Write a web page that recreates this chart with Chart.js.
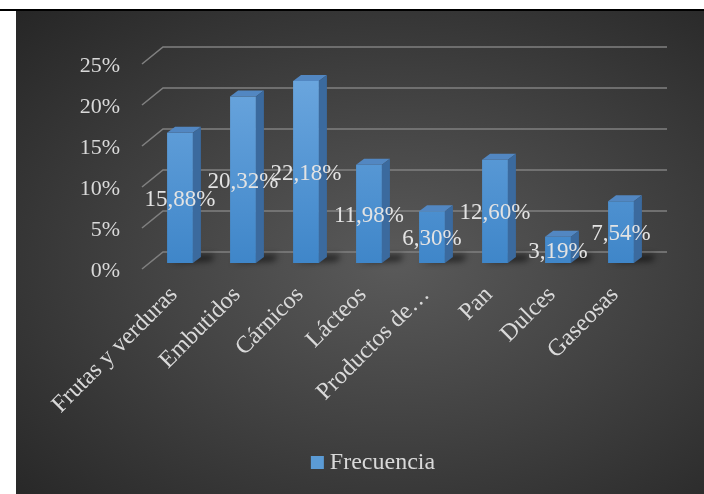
<!DOCTYPE html>
<html>
<head>
<meta charset="utf-8">
<script src="https://cdn.jsdelivr.net/npm/chart.js@4/dist/chart.umd.min.js"></script>
<style>
body{margin:0;background:#fff;width:704px;height:494px;overflow:hidden;position:relative}
#topline{position:absolute;left:0;top:9px;width:704px;height:2px;background:#000}
#box{position:absolute;left:16px;top:11px;width:688px;height:483px;
background:radial-gradient(farthest-corner at 55% 52%, #5a5a5a 0%, #434343 45%, #262626 100%)}
</style>
</head>
<body>
<div id="topline"></div>
<div id="box"><canvas id="chart" width="688" height="483"></canvas></div>
<script>
const categories = ["Frutas y verduras","Embutidos","Cárnicos","Lácteos","Productos de…","Pan","Dulces","Gaseosas"]
const frecuencia = [15.88,20.32,22.18,11.98,6.30,12.60,3.19,7.54]
const yTicks = [0,5,10,15,20,25]
const seriesName = "Frecuencia"

const fontFam = "'Liberation Serif','Times New Roman',serif"
const textCol = "#d9d9d9"
const barCol = "#5b9bd5"
const dx = 8, dy = -6

function fmt(v){
    return v.toFixed(2).replace('.', ',') + '%'
}

// back wall + perspective grid lines, 3d faces, labels, legend
const grid3d = {
    id: 'grid3d',
    beforeDatasetsDraw(chart){
        const ctx = chart.ctx, y = chart.scales.y, a = chart.chartArea
        ctx.save()
        ctx.strokeStyle = '#808080'
        ctx.lineWidth = 1.6
        yTicks.forEach(t => {
            const py = y.getPixelForValue(t)
            ctx.beginPath()
            ctx.moveTo(a.left - 6.5, py + 6)
            ctx.lineTo(a.left + 14.5, py - 11)
            ctx.lineTo(a.right + 14.5, py - 11)
            ctx.stroke()
        })
        // shadows under bars
        ctx.filter = 'blur(3px)'
        ctx.fillStyle = 'rgba(0,0,0,0.6)'
        chart.getDatasetMeta(0).data.forEach(b => {
            const r = b.x + b.width / 2, l = b.x - b.width / 2
            ctx.beginPath()
            ctx.moveTo(l + 2, b.base)
            ctx.lineTo(r + 18, b.base - 2)
            ctx.lineTo(r + 22, b.base - 8)
            ctx.lineTo(r, b.base - 8)
            ctx.closePath()
            ctx.fill()
        })
        ctx.restore()
    },
    afterDatasetsDraw(chart){
        const ctx = chart.ctx
        const bars = chart.getDatasetMeta(0).data
        ctx.save()
        bars.forEach(b => {
            const l = b.x - b.width / 2, r = b.x + b.width / 2
            // top
            ctx.fillStyle = '#5287c2'
            ctx.beginPath()
            ctx.moveTo(l, b.y); ctx.lineTo(l + dx, b.y + dy)
            ctx.lineTo(r + dx, b.y + dy); ctx.lineTo(r, b.y)
            ctx.closePath(); ctx.fill()
            // side
            ctx.fillStyle = '#3b6a9e'
            ctx.beginPath()
            ctx.moveTo(r, b.y); ctx.lineTo(r + dx, b.y + dy)
            ctx.lineTo(r + dx, b.base + dy); ctx.lineTo(r, b.base)
            ctx.closePath(); ctx.fill()
        })
        // data labels, centred on the bar
        ctx.font = "23px " + fontFam
        ctx.fillStyle = '#e3e3e3'
        ctx.textAlign = 'center'
        ctx.textBaseline = 'middle'
        bars.forEach((b, i) => {
            ctx.fillText(fmt(frecuencia[i]), b.x, (b.y + b.base) / 2 + 2)
        })
        ctx.restore()
    },
    afterDraw(chart){
        // legend
        const ctx = chart.ctx
        ctx.save()
        ctx.font = "24px " + fontFam
        const tw = ctx.measureText(seriesName).width
        const w = 13 + 6 + tw
        const x0 = 357 - w / 2, yc = 452
        ctx.fillStyle = barCol
        ctx.fillRect(x0, yc - 7, 13, 13)
        ctx.fillStyle = textCol
        ctx.textBaseline = 'middle'
        ctx.fillText(seriesName, x0 + 19, yc)
        ctx.restore()
    }
}

new Chart("chart", {
    type: "bar",
    data: {
        labels: categories,
        datasets: [{
            label: seriesName,
            data: frecuencia,
            backgroundColor: function(c){
                const a = c.chart.chartArea
                if(!a) return barCol
                const g = c.chart.ctx.createLinearGradient(0, a.top, 0, a.bottom)
                g.addColorStop(0, '#6fa9e0')
                g.addColorStop(1, '#3f86c9')
                return g
            },
            borderWidth: 0,
            barPercentage: 0.41,
            categoryPercentage: 1
        }]
    },
    options: {
        responsive: false,
        animation: false,
        layout: {padding: {left: 42.5, right: 51.5, top: 47, bottom: 52}},
        scales: {
            x: {
                grid: {display: false, drawTicks: false},
                border: {display: false},
                ticks: {
                    color: textCol,
                    font: {family: fontFam, size: 24},
                    minRotation: 45, maxRotation: 45,
                    autoSkip: false,
                    padding: 18,
                    labelOffset: -6
                },
                afterFit: s => { s.height = 179 }
            },
            y: {
                min: 0, max: 25,
                grid: {display: false, drawTicks: false},
                border: {display: false},
                ticks: {
                    stepSize: 5,
                    color: textCol,
                    font: {family: fontFam, size: 22},
                    padding: 28.5,
                    labelOffset: 8,
                    callback: v => v + '%'
                },
                afterFit: s => { s.width = 90 }
            }
        },
        plugins: {
            legend: {display: false},
            tooltip: {enabled: false}
        }
    },
    plugins: [grid3d]
});
</script>
</body>
</html>
